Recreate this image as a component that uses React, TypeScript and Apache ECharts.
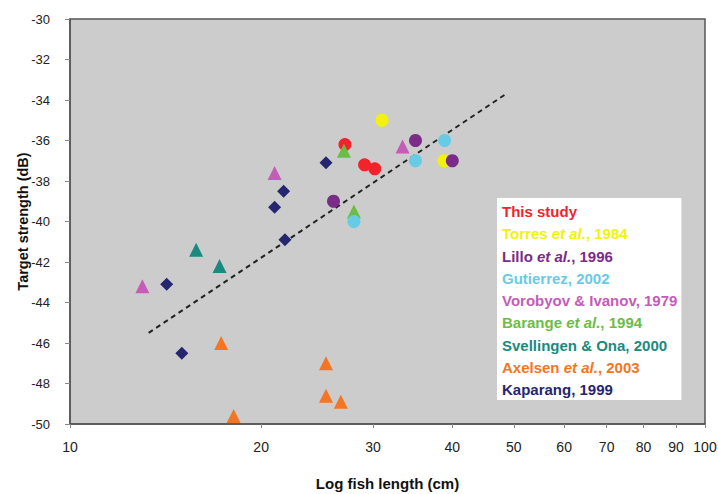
import React, { useEffect, useRef } from "react";
import * as echarts from "echarts";

// Tick labels
const xTicks = [10, 20, 30, 40, 50, 60, 70, 80, 90, 100];

// Series data: [fish length (cm), target strength (dB)]
const thisStudy = [[27.1, -36.2], [29.1, -37.2], [30.2, -37.4]];
const torres = [[31.0, -35.0], [38.8, -37.0]];
const lillo = [[26.0, -39.0], [35.0, -36.0], [40.0, -37.0]];
const gutierrez = [[28.0, -40.0], [35.0, -37.0], [38.9, -36.0]];
const vorobyov = [[21.0, -37.6], [13.0, -43.2], [33.4, -36.3]];
const barange = [[27.0, -36.5], [28.0, -39.5]];
const svellingen = [[15.8, -41.4], [17.2, -42.2]];
const axelsen = [[17.3, -46.0], [25.3, -47.0], [25.3, -48.6], [26.7, -48.9], [18.1, -49.6]];
const kaparang = [[25.3, -37.1], [21.7, -38.5], [21.0, -39.3], [21.8, -40.9], [14.2, -43.1], [15.0, -46.5]];
const trend = [[13.3, -45.5], [48.6, -33.7]];

const FONT = "'Liberation Sans', Arial, sans-serif";

type Grp = { name: string; data: number[][]; color: string; symbol: string; size: number };

const groups: Grp[] = [
  { name: "Torres et al., 1984", data: torres, color: "#f2f20a", symbol: "circle", size: 13 },
  { name: "This study", data: thisStudy, color: "#f2232a", symbol: "circle", size: 13 },
  { name: "Barange et al., 1994", data: barange, color: "#6cbd45", symbol: "triangle", size: 14 },
  { name: "Lillo et al., 1996", data: lillo, color: "#7b2b88", symbol: "circle", size: 13 },
  { name: "Gutierrez, 2002", data: gutierrez, color: "#68cbe6", symbol: "circle", size: 13 },
  { name: "Vorobyov & Ivanov, 1979", data: vorobyov, color: "#c45cb8", symbol: "triangle", size: 14 },
  { name: "Svellingen & Ona, 2000", data: svellingen, color: "#1a8a80", symbol: "triangle", size: 14 },
  { name: "Axelsen et al., 2003", data: axelsen, color: "#f47524", symbol: "triangle", size: 14 },
  { name: "Kaparang, 1999", data: kaparang, color: "#252670", symbol: "diamond", size: 13 },
];

const legendOrder = [
  "This study",
  "Torres et al., 1984",
  "Lillo et al., 1996",
  "Gutierrez, 2002",
  "Vorobyov & Ivanov, 1979",
  "Barange et al., 1994",
  "Svellingen & Ona, 2000",
  "Axelsen et al., 2003",
  "Kaparang, 1999",
];

export default function App() {
  const ref = useRef<HTMLDivElement>(null);
  useEffect(() => {
    if (!ref.current) return;
    const chart = echarts.init(ref.current, null, { renderer: "svg" });
    const colorOf = (n: string) => groups.find((g) => g.name === n)!.color;
    chart.setOption({
      animation: false,
      backgroundColor: "#ffffff",
      textStyle: { fontFamily: FONT },
      grid: {
        left: 70,
        top: 19,
        right: 13,
        bottom: 70,
        show: true,
        backgroundColor: "#cccccc",
        borderColor: "#555555",
        borderWidth: 1.5,
        outerBoundsMode: "none",
        containLabel: false,
      },
      xAxis: {
        type: "log",
        logBase: 10,
        min: 10,
        max: 100,
        name: "Log fish length (cm)",
        nameLocation: "middle",
        nameGap: 52,
        nameMoveOverlap: false,
        nameTextStyle: { fontFamily: FONT, fontSize: 15, fontWeight: "bold", color: "#111" },
        axisLine: { show: true, lineStyle: { color: "#555", width: 1.5 } },
        axisTick: { show: true, length: 4, customValues: xTicks, lineStyle: { color: "#888" } },
        minorTick: { show: false },
        splitLine: { show: false },
        axisLabel: {
          customValues: xTicks,
          margin: 16,
          fontFamily: FONT,
          fontSize: 14,
          color: "#222",
          showMinLabel: true,
          showMaxLabel: true,
        },
      },
      yAxis: {
        type: "value",
        min: -50,
        max: -30,
        interval: 2,
        name: "Target strength (dB)",
        nameLocation: "middle",
        nameGap: 40,
        nameMoveOverlap: false,
        nameTextStyle: { fontFamily: FONT, fontSize: 14.5, fontWeight: "bold", color: "#111" },
        axisLine: { show: true, lineStyle: { color: "#555", width: 1.5 } },
        axisTick: { show: true, length: 5, lineStyle: { color: "#888" } },
        splitLine: { show: false },
        axisLabel: { margin: 20, fontFamily: FONT, fontSize: 13, color: "#222" },
      },
      legend: {
        orient: "vertical",
        left: 497,
        top: 198,
        padding: [6, 4, 3, 0],
        backgroundColor: "#ffffff",
        itemWidth: 0,
        itemHeight: 15,
        itemGap: 7.25,
        icon: "none",
        selectedMode: false,
        textStyle: {
          fontFamily: FONT,
          fontSize: 15,
          fontWeight: "bold",
          lineHeight: 15,
          rich: {
            n: { fontFamily: FONT, fontSize: 15, fontWeight: "bold", lineHeight: 15 },
            i: { fontFamily: FONT, fontSize: 15, fontWeight: "bold", fontStyle: "italic", lineHeight: 15 },
          },
        },
        formatter: (name: string) => {
          const idx = name.indexOf("et al.");
          if (idx < 0) return `{n|${name}}`;
          return `{n|${name.slice(0, idx)}}{i|et al.}{n|${name.slice(idx + 6)}}`;
        },
        data: legendOrder.map((n) => ({ name: n, textStyle: { color: colorOf(n) } })),
      },
      series: [
        {
          type: "line",
          name: "trend",
          data: trend,
          showSymbol: false,
          symbol: "none",
          z: 1,
          lineStyle: { color: "#222", width: 2, type: [5, 4] },
          silent: true,
        },
        ...groups.map((g) => ({
          type: "scatter",
          name: g.name,
          data: g.data,
          symbol: g.symbol,
          symbolSize: g.size,
          itemStyle: { color: g.color, opacity: 1 },
          z: 3,
        })),
      ],
    });
    return () => chart.dispose();
  }, []);
  return (
    <div
      ref={ref}
      style={{ position: "fixed", left: 0, top: 0, width: 718, height: 494, background: "#fff" }}
    />
  );
}
